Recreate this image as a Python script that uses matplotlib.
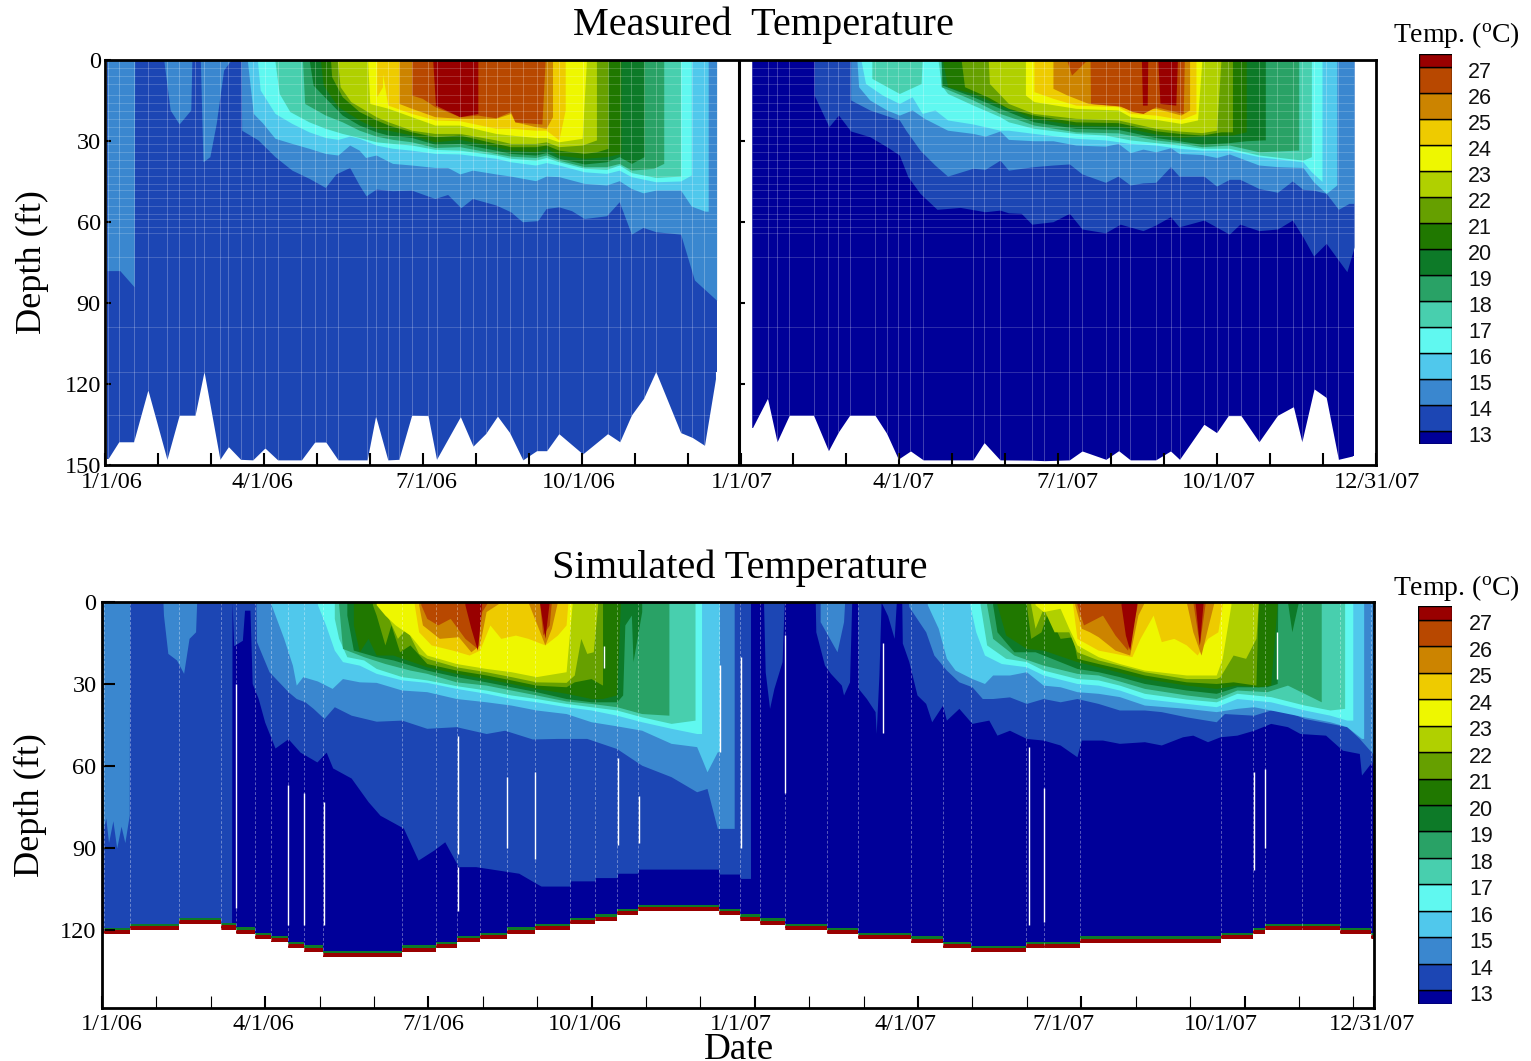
# -*- coding: utf-8 -*-
# measured and simulated lake temperature, depth vs date
# x values are months since 1/1/06, depths are in ft
import matplotlib
matplotlib.use('Agg')
import matplotlib.pyplot as plt

W, H = 1531, 1061

temps = list(range(13, 28))
band_colors = ['#000099', '#1c46b4', '#3a87cf', '#50c8ec', '#60f8f0', '#48cfae', '#29a266', '#0d7a28',
               '#207800', '#66a000', '#b0d000', '#eef700', '#eecb00', '#cc8400', '#b84800', '#990000']
depth_ticks = [0, 30, 60, 90, 120, 150]
top_dates = ['1/1/06', '4/1/06', '7/1/06', '10/1/06', '1/1/07', '4/1/07', '7/1/07', '10/1/07', '12/31/07']
sim_depth_ticks = [0, 30, 60, 90, 120]

# ---- measured 2006, isotherm depth per colour band
m06_bot_x = [.05,.26,.54,.81,1.17,1.40,1.70,1.87,2.17,2.33,2.56,2.79,3.02,3.26,3.71,3.96,4.17,4.40,4.95,5.11,5.34,5.55,5.79,6.10,6.26,6.71,6.95,7.19,7.41,7.64,7.89,8.15,8.34,8.57,9.02,9.49,9.72,9.94,10.17,10.40,10.87,11.09,11.32,11.55]
m06_bot_d = [147.9,141.4,141.4,122.2,147.9,131.6,131.6,115.4,147.9,143.2,147.9,148.1,143.7,148.1,148.1,141.5,141.5,148.1,148.1,131.9,148.1,147.9,131.6,131.7,147.9,132.1,143,138.3,131.9,138,148.1,144.7,144.7,138.4,145.9,138.4,141.4,131.5,125.3,115.4,138,139.8,142.7,115.4]
m06_x2 = [.04,.28,.55,.56,1.11,1.23,1.40,1.62,1.64,1.80,1.85,1.98,2.10,2.24,2.38,2.57,2.58,2.89,3.21,3.53,3.85,4.16,4.36,4.62,4.80,4.93,5.12,5.43,5.79,6.23,6.47,6.72,6.94,7.38,7.66,7.88,8.17,8.33,8.57,8.81,9.05,9.47,9.71,9.94,10.16,10.40,10.87,11.13,11.55]
m06_d2 = [78,78,84,0,0,18.5,23.7,18.5,0,0,37.7,35.8,23.5,3.7,0,0,26,29.6,35.8,40.8,43.8,47.2,42.2,39.8,46.3,50.3,47.8,48.4,48.2,51.3,49.8,54.7,51.3,53.7,56.2,59.9,59.5,55,54.4,55.8,58.7,57.7,52.5,64.5,62,63.6,64.5,81.5,89]
m06_x3 = [2.69,2.80,2.97,3.21,3.53,3.85,4.16,4.40,4.62,4.80,4.92,5.12,5.43,5.79,6.23,6.47,6.70,6.94,7.38,7.66,8.13,8.33,8.57,9.05,9.47,9.71,9.94,10.16,10.40,10.87,11.07,11.33,11.39]
m06_d3 = [.6,19.8,23.2,29,30.9,32.7,34.6,35.2,31.5,33.4,36.1,35.2,38.3,38.9,39.8,39.8,42.2,40.8,42.2,43,44.7,43,43.2,45.7,46.3,44.7,47.6,49.2,48.2,48.2,54.1,56,56]
m06_x4 = [2.88,2.93,3.21,3.53,3.85,4.16,4.40,4.62,4.80,5.12,5.43,5.79,6.23,6.70,7.38,7.66,8.13,8.33,8.57,9.05,9.47,9.71,9.94,10.40,10.87,11.07]
m06_d4 = [.6,11.1,19.8,23.5,26.6,28.7,29.4,28.2,29,31.5,32.7,33.4,34.6,34.8,36.4,37.7,38.9,38,38.9,41.4,42,40.8,43.2,45.1,44.8,42.6]
m06_x5 = [3.21,3.29,3.49,3.85,4.16,4.48,4.80,5.12,5.43,5.79,6.23,6.70,7.38,7.66,8.13,8.33,8.57,9.05,9.47,9.71,9.94,10.40,10.87]
m06_d5 = [.6,12.4,19.1,22.9,25.3,27.2,28.7,30.3,30.9,31.5,33.1,33.4,35.2,36.4,37.1,36.1,37.7,40.1,40.5,38.9,41.7,43.5,43]
m06_x6 = [3.73,3.77,4.16,4.48,4.80,5.12,5.43,5.79,6.23,6.70,7.38,7.66,8.13,8.33,8.57,9.05,9.47,9.71,9.94,10.36,10.55]
m06_d6 = [.6,16.1,20.4,22.9,26,28.2,29.4,30.3,32.4,32.1,34.6,35.6,36.1,35.2,37.1,39.5,39.5,38.3,40.8,40.1,38.3]
m06_x7 = [3.86,3.93,4.20,4.48,4.80,5.12,5.35,5.79,6.23,6.70,7.38,7.66,8.13,8.33,8.57,9.05,9.47,9.71,9.94,10.18]
m06_d7 = [.6,9.3,14.8,20.4,24.1,26.6,27.8,28.7,31.2,30.9,33.4,34.6,35.2,34.3,36.4,38.5,37.7,35.8,38.3,35.8]
m06_x8 = [4.07,4.12,4.40,4.80,5.12,5.35,5.79,6.23,6.70,7.38,7.66,8.13,8.33,8.57,9.05,9.47,9.74]
m06_d8 = [.6,9.3,17.3,22.2,25.3,26,27.8,30.3,29.4,32.1,33.4,34,32.7,35.2,36.4,35.8,34.6]
m06_x9 = [4.26,4.28,4.48,4.80,5.12,5.35,5.79,6.23,6.70,7.38,7.66,8.13,8.33,8.57,9.05,9.28,9.50]
m06_d9 = [.6,6.2,13.6,19.1,22.2,24.1,26.6,28.4,27.8,30.9,32.1,32.1,31.5,33.4,34.6,34,32.7]
m06_x10 = [4.39,4.44,4.64,5.12,5.35,5.79,6.23,6.70,7.38,7.66,8.13,8.33,8.57,9.01,9.28]
m06_d10 = [.6,9.9,15.4,21,22.9,26,27.2,27.2,29.6,30.9,30.9,30.3,32.1,31.5,29.6]
m06_x11 = [4.96,5.00,5.35,5.79,6.23,6.70,7.38,7.66,8.13,8.33,8.57,9.01,9.09]
m06_d11 = [.6,16.1,17.9,21,24.1,24.1,27.2,27.8,28.7,28.7,30.3,29,.6]
m06_x12 = [5.13,5.24,5.24,5.34,5.79,6.23,6.70,7.38,7.66,8.13,8.33,8.57,8.69]
m06_d12 = [13.6,9.9,5,16.7,19.8,22.2,22.5,25.3,25.3,26,26,29.6,18.5]
m06_x13 = [5.55,5.79,6.23,6.70,7.38,7.66,7.74,8.13,8.33,8.45]
m06_d13 = [16.1,17.9,21,21.6,21.6,19.8,22.9,24.7,25.3,21]
m06_x14 = [5.79,5.99,6.23,6.70,7.04,7.38,7.66,7.74,8.25,8.31]
m06_d14 = [13,14.2,17.3,21,20.4,21.4,19.1,22.9,23.7,.6]
m06_x15 = [6.19,6.24,6.70,7.04]
m06_d15 = [.6,16.7,21,19.8]

# ---- measured 2007
m07_bot_x = [12.22,12.51,12.69,12.92,13.38,13.66,13.85,14.06,14.54,14.76,14.98,15.21,15.45,16.39,16.60,16.90,17.50,17.74,18.21,18.45,18.90,19.14,19.36,19.84,20.12,20.29,20.75,20.99,21.21,21.45,21.79,22.14,22.44,22.60,22.83,23.06,23.29,23.59]
m07_bot_d = [136.4,125.3,141.4,131.6,131.6,144.7,137.7,131.6,131.6,138.3,147.8,144.8,148.1,148.1,141.7,148.1,148.2,148.4,148.1,144.8,147.9,144.7,148.1,148.1,144.8,147.9,134.9,138,131.7,131.7,141.4,131.6,128.4,141.4,121.8,125,147.9,146.5]
m07_x1 = [13.39,13.67,13.85,14.08,14.44,14.76,15.0,15.16,15.39,15.71,16.15,16.62,16.90,17.06,17.30,17.5,17.9,18.21,18.45,18.89,19.17,19.6,19.84,20.12,20.28,20.75,21.23,21.43,21.79,22.14,22.42,22.62,22.82,23.06,23.29,23.45,23.59]
m07_d1 = [13,24.7,20.4,26.3,28.4,32.1,35.2,43.2,49.4,55.3,54.6,56.2,55.6,56.6,56.8,60.8,59.9,56.8,62.6,64,60.8,63.2,61.1,58,61.8,59.3,64.5,60.8,63.2,62.6,59.3,65.5,72.6,67.9,74.1,78.4,69.2]
m07_x2 = [14.08,14.44,15.0,15.12,15.39,15.67,15.91,16.39,16.62,16.90,17.06,17.54,17.9,18.21,18.45,18.89,19.13,19.36,19.6,19.84,20.12,20.28,20.75,20.99,21.23,21.43,21.79,22.14,22.42,22.62,22.82,23.06,23.29,23.49,23.59]
m07_d2 = [14.8,18.5,22.2,26,33.4,38.9,43,40.1,40.5,37.1,40.8,39.5,38.9,38.5,42.2,45.3,43,46.3,45.5,45.3,39.5,43,43,46.7,44.2,44.2,47.6,49,44.8,47.9,48.2,49.4,55.3,53.1,53.1]
m07_x3 = [14.2,14.23,14.44,14.76,15.0,15.24,15.47,15.91,16.39,16.62,16.90,17.06,17.54,17.9,18.33,18.89,19.13,19.36,19.6,19.84,20.12,20.28,20.71,20.99,21.23,21.79,22.14,22.62,22.82,23.06,23.26]
m07_d3 = [.6,9.9,14.8,18.5,20.4,18.5,21.6,26,27.2,28.2,26.3,29.4,29.9,29.9,31.5,31.9,30.9,34.3,33,34,32.5,34.6,35,36.1,34.8,38.9,39.5,39.8,45.1,49.4,46.3]
m07_x4 = [14.28,14.36,14.68,15.0,15.24,15.43,15.67,15.91,16.39,16.90,17.06,17.54,18.33,18.89,19.36,19.84,20.28,20.71,21.23,21.79,22.62,22.78,22.98]
m07_d4 = [.6,8.7,13,16.1,13.6,19.8,18.5,22.2,23.7,26,26,27.2,29,29.6,30.9,31.5,32.7,33.4,33.4,35.8,37.7,41.4,45]
m07_x5 = [14.48,15.0,15.41,15.43,15.73,15.79,15.91,16.39,16.90,17.06,17.54,18.33,18.89,19.36,19.84,20.28,20.71,21.23,21.79,22.62,22.78]
m07_d5 = [6.8,12.4,8.7,0,0,9.3,12.4,16.7,21,22.9,25.3,27.2,27.8,29.6,30.6,31.5,32.7,32.7,35.2,37.1,35.8]
m07_x6 = [15.79,16.39,16.90,17.54,18.33,19.13,19.84,20.28,20.71,21.23,21.79,22.49,22.54]
m07_d6 = [9.9,14.8,19.8,24.1,26.6,27,29.6,30.6,32.1,31.5,34,33.4,33.4]
m07_x7 = [15.79,15.81,16.39,16.90,17.54,18.33,19.13,19.84,20.28,20.71,21.23,21.55,21.87,21.91]
m07_d7 = [.6,9.3,13.6,17.9,22.9,25.3,25.7,28.7,29.9,31.2,30.6,29.9,29.6,29.6]
m07_x8 = [15.82,15.91,16.39,16.90,17.54,18.33,19.13,19.84,20.28,20.71,21.29,21.55]
m07_d8 = [.6,9.9,12.4,16.7,21.6,24.1,24.5,27.4,28.7,28.2,27.8,26.6]
m07_x9 = [16.17,16.23,16.66,17.06,17.54,18.33,19.13,19.84,20.28,20.71,21.07,21.29]
m07_d9 = [.6,9.9,13.6,17.9,20.4,22.9,23.2,26.2,27.2,27.8,26.6,26.6]
m07_x10 = [16.68,16.70,17.06,17.54,18.33,19.13,19.84,20.28,20.71,20.99,21.07]
m07_d10 = [.6,8.7,16.1,19.8,21.6,22.2,25.3,26.3,26.9,26,.6]
m07_x11 = [17.38,17.54,18.33,19.13,19.36,19.84,20.32,20.63,20.71]
m07_d11 = [13,15.4,17.9,18.5,21,22,23.5,22.2,.6]
m07_x12 = [17.54,17.9,18.33,19.13,19.36,19.84,20.32,20.6]
m07_d12 = [11.7,14.2,16.7,17.3,19.8,20.4,22,19.8]
m07_x13 = [17.9,18.17,18.57,19.13,19.40,19.84,20.32,20.48]
m07_d13 = [10.5,13,16.1,17,18.5,17.9,20.4,18.5]
m07_x14 = [18.17,18.25,18.51,18.60,18.61,19.17,19.40,19.6,19.84,20.36,20.38]
m07_d14 = [.6,5.6,.6,0,16.1,17,19.1,19.8,17.3,19.8,.6]
m07_x15 = [19.57,19.59,19.68,19.69,19.88,19.92,20.22,20.25]
m07_d15 = [0,16.7,16.7,0,0,16.1,16.7,0]
m_grid_depths = [3,6,9,13,16,19,22,25,28,31,34,37,40,43,46,48,51,54,57,59,62,64,73,99,115.4,131.6]

# ---- simulated, bottom of the water column (steps)
sim_step_x = [.03,.52,1.41,2.19,2.46,2.81,3.11,3.41,3.72,4.07,5.51,6.14,6.53,6.95,7.44,7.95,8.61,9.07,9.46,9.86,11.34,11.73,12.09,12.55,13.32,13.9,14.87,15.45,15.98,16.99,17.31,17.97,20.56,21.16,21.38,22.05,22.76,23.32]
sim_step_d = [121.5,120,117.7,119.8,121.3,123.2,124.5,126.5,127.9,130,127.9,126.5,124.5,123.2,121.3,120,117.8,116.6,114.6,113.2,114.6,116.6,118,119.9,121.4,123.2,124.6,126.5,128,126.5,126.5,124.6,123.2,121.4,119.9,119.9,121.4,123.2]
s06_x1 = [0,2.38,2.39,2.42,2.58,2.62,2.72,2.76,2.87,2.99,3.18,3.42,3.64,3.95,4.12,4.24,4.58,4.89,5.11,5.54,5.81,6.1,6.3,6.55,6.87,7.66,7.97,8.07,8.6,8.61,9.06,9.07,9.47,9.48,9.85,9.86,11.33,11.34,11.72,11.73,11.92]
s06_d1 = [135,135,0,16,14,3,3,29.8,35.2,43.9,53.4,50,54.9,58.5,54.9,60.7,64.4,73,78,82.7,94.4,90.7,87.7,96.8,96.8,99.2,102.8,103.9,103.9,102,102,100.8,100.8,99.2,99.2,97.7,97.7,99.5,99.5,101.1,101.1]
s07_x1 = [12.16,12.19,12.27,12.35,12.5,12.54,13.11,13.12,13.28,13.39,13.59,13.63,13.74,13.78,13.89,13.9,14.05,14.21,14.23,14.28,14.32,14.44,14.56,14.6,14.7,14.71,14.83,14.98,15.14,15.25,15.45,15.52,15.75,15.99,16.3,16.45,16.68,16.99,17.3,17.61,17.92,18,18.39,18.7,19.16,19.47,19.86,20.05,20.32,20.55,20.86,21.17,21.48,21.79,22.02,22.49,22.8,23.11,23.15,23.34,23.38]
s07_d1 = [1,25.5,38.9,31.6,21.8,0,0,10.9,23.1,26.1,30.4,34,29.2,0,0,31.6,35.3,40.1,48.1,26.7,0,5,13.3,0,0,15,21.8,34,37.1,43.8,37.7,43.2,38.9,44.4,43.2,48.7,46.9,49.9,50.5,52.3,56.6,50.5,50.5,51.7,51.1,52.3,49.3,48.7,51.1,49.3,48.7,46.9,44.4,45.6,48.1,48.7,54.2,55.4,63.3,58.4,63.9]
s06_x2 = [0,.07,.12,.2,.27,.35,.42,.5,.51,1.12,1.13,1.21,1.37,1.5,1.6,1.72,1.74,2.83,2.84,3.07,3.19,3.42,3.57,3.73,3.88,4.08,4.27,4.58,5.04,5.51,5.97,6.51,7.06,7.4,7.91,8.37,8.91,9.46,9.92,10.46,10.93,11.12,11.31,11.62]
s06_d2 = [85,79,88,80,90,82,88,78,0,0,4.8,18.8,21.2,26.1,13.3,10.9,0,0,14.5,25.5,28,32.8,35.3,36.5,38.9,42.6,38.3,41.4,43.6,43.2,46.2,45.6,48.1,46.9,50.1,49.9,49.9,53.6,59.7,63.9,69.4,68.2,82.8,82.8]
s07_x2 = [13.2,13.51,13.63,13.65,14.82,14.83,15.14,15.29,15.52,15.75,15.99,16.18,16.37,16.68,16.99,17.3,17.61,17.92,18.31,18.7,19.16,19.47,19.93,20.48,20.63,21.17,21.48,21.79,22.1,22.57,22.88,23.11,23.38]
s07_d2 = [7.2,18.2,7.2,0,0,1.7,10.9,19.4,24.9,29.2,31,35.3,35.3,34.7,37.1,35.3,36.5,35.3,37.1,39.5,39.5,40.1,42,43.8,40.8,41.4,39.5,40.1,42.6,44.4,45.6,49.9,56]
s06_x3 = [3.11,3.34,3.5,3.57,3.69,3.96,4.23,4.42,4.73,5.04,5.51,5.97,6.51,7.06,7.52,7.98,8.53,8.99,9.46,9.92,10.46,10.93,11.02,11.12,11.31,11.35]
s06_d3 = [1,13.3,23.1,30.4,27.3,28.9,31.6,28,29.2,29.4,32.2,32.8,35.3,36.5,37.7,39.5,40.8,43.8,45.3,46.9,51.7,52.9,57.2,62.1,54.8,54.8]
s07_x3 = [15.17,15.37,15.52,15.68,15.99,16.22,16.37,16.68,16.99,17.3,17.61,17.92,18.31,18.7,19.16,19.93,20.48,20.86,21.17,21.48,22.1,22.57,22.88,23.15,23.19]
s07_d3 = [1,9.6,20.6,24.9,28,29.8,26.7,26.7,25.5,30.4,31,32.8,33.4,34.6,37.7,38.9,40.1,38.9,38.3,39.5,42,43.8,45.6,49.9,49.9]
s06_x4 = [3.96,4.11,4.27,4.42,4.73,5.04,5.51,5.97,6.51,7.06,7.52,7.98,8.53,8.99,9.46,9.92,10.46,10.93,11.02]
s06_d4 = [1,8.4,17.6,21.8,23.1,26.1,28.5,29.4,31.6,33.4,35.3,36.5,38.3,39.5,41.4,43.8,46.2,48.1,48.1]
s07_x4 = [15.95,16.06,16.22,16.53,16.99,17.3,17.92,18.31,18.7,19.16,19.93,20.48,20.86,21.48,22.1,22.57,22.88,22.99]
s07_d4 = [1,10.9,19.4,22.5,23.7,26.7,29.8,30.4,32.2,35.3,37.1,38.3,35.3,36.5,39.5,41.4,43.2,43.2]
s06_x5 = [4.27,4.35,4.5,4.81,5.04,5.51,5.97,6.51,7.06,7.52,7.98,8.53,8.99,9.46,9.92,10.46,10.9]
s06_d5 = [6,13.3,20,21.2,24.3,27.3,28.5,30.6,32.2,34,35.3,37.1,38.3,39.5,42,44.4,43.2]
s07_x5 = [16.14,16.26,16.61,16.99,17.3,17.92,18.31,18.7,19.16,19.93,20.48,20.86,21.48,22.1,22.57,22.84]
s07_d5 = [1,15.7,20.6,21.8,24.9,28,28.5,30.4,33.4,35.5,36.5,33.4,34.6,37.7,39.5,38.9]
s06_x6 = [4.35,4.42,4.81,5.2,5.66,5.97,6.51,7.06,7.52,7.98,8.53,8.99,9.46,9.92,10.42]
s06_d6 = [1,17,20,22.5,24.9,26.1,29.2,30.4,32.2,34,36.2,37.1,38.3,40.8,41.4]
s07_x6 = [16.26,16.37,16.76,17.3,17.92,18.31,18.7,19.16,19.93,20.48,20.86,21.41,21.79,22.41]
s07_d6 = [1,13.3,19.4,23.1,26.1,26.7,28.9,31.6,34,35.3,32.2,32.8,30.4,36.5]
s06_x7 = [4.5,4.62,5.04,5.35,5.97,6.51,7.06,7.52,7.98,8.53,8.99,9.46,9.57,9.61,9.73,9.76,9.92]
s06_d7 = [4.8,17.6,20,21.2,24.9,27.3,29.2,31,32.8,35.3,36.5,36.5,34,8.4,4.8,21.8,3.5]
s07_x7 = [16.37,16.45,16.76,17.15,17.92,18.31,18.7,19.16,19.93,20.48,20.86,21.41,21.6,21.61,21.79,21.87,21.99]
s07_d7 = [1,10.9,18.2,18.2,24.3,25.5,27.3,29.8,32.2,33.4,31,31,29.8,0,0,10.9,0]
s06_x8 = [4.62,4.73,4.89,5.04,5.35,5.97,6.51,7.06,7.52,7.98,8.53,8.99,9.2,9.46,9.53]
s06_d8 = [8.4,18.2,13.3,19.4,19.4,23.7,26.1,28,29.8,31.6,33.4,35.3,35.3,34,0]
s07_x8 = [16.45,16.61,16.99,17.3,17.92,18.31,18.7,19.16,19.93,20.48,20.86,21.25,21.48,21.6]
s07_d8 = [1,12.1,17,17.6,21.8,23.7,25.7,28,30.4,31.6,30.4,31,30.4,1]
s06_x9 = [4.97,5.04,5.2,5.31,5.47,5.66,5.97,6.51,7.06,7.52,7.98,8.53,8.68,8.99,9.2]
s06_d9 = [1,4.8,15.7,8.4,18.2,15.7,22.5,24.9,26.7,28.5,30.4,31,29.2,28,30.4]
s07_x9 = [16.99,17.07,17.26,17.38,17.61,17.84,17.92,18.31,18.7,19.16,19.93,20.48,20.79,21.21,21.25]
s07_d9 = [1,13.3,10.9,3.5,13.3,12.7,20.6,22.5,24.3,26.7,29.2,29.8,29.2,30.4,1]
s06_x10 = [5.12,5.28,5.43,5.59,5.82,5.97,6.51,7.06,7.52,7.98,8.53,8.68,8.8,8.91,9.03,9.11]
s06_d10 = [1,6.6,13.3,9.6,18.8,20.6,23.7,25.5,27.3,29.2,29.4,26.7,13.3,18.8,18.2,1]
s07_x10 = [17.07,17.15,17.3,17.5,17.77,17.92,18.31,18.7,19.16,19.93,20.48,20.55,20.79,21.02,21.21,21.25]
s07_d10 = [1,9.6,2.3,10.9,10.9,18.2,21.2,23.1,25.5,28,28,27.3,19.4,20.6,13.3,1]
s06_x11 = [5.04,5.2,5.39,5.66,5.86,5.97,6.51,7.06,7.52,7.98,8.53,8.64]
s06_d11 = [1,4.8,8.4,12.1,17,19.4,22.5,24.3,25.5,27.3,25.5,1]
s07_x11 = [17.15,17.3,17.61,17.77,17.92,18.31,18.7,19.16,19.93,20.48,20.59,20.75]
s07_d11 = [1,3.5,2.3,9.6,15.7,20,22.5,24.9,26.7,26.7,20.6,1]
s06_x12 = [5.74,5.82,6.05,6.44,6.75,6.94,7.13,7.33,7.6,7.83,8.14,8.37,8.53,8.56]
s06_d12 = [1,10.9,15.7,17.6,19.4,17.6,8.4,13.3,12.1,13.3,15.7,12.1,8.4,1]
s07_x12 = [17.84,17.92,18.31,18.62,18.93,19.08,19.32,19.47,19.7,19.93,20.13,20.32,20.51,20.59]
s07_d12 = [1,13.3,17.6,18.8,20,13.3,4.8,14.5,13.3,15.7,19.4,13.3,10.9,1]
s06_x13 = [5.82,5.89,6.2,6.55,6.78,6.94,7.06,7.33,7.83,8.02,8.14,8.26,8.37]
s06_d13 = [1,8.4,13.3,12.7,18.2,15.7,3.5,0,0,9.6,15.7,9.6,0]
s07_x13 = [17.88,18,18.15,18.31,18.62,18.89,19.04,19.16,19.93,20.05,20.2,20.32,20.44]
s07_d13 = [1,9.6,10.9,12.7,17.6,19.4,4.8,0,0,10.9,19.4,9.6,0]
s06_x14 = [5.86,5.97,6.17,6.4,6.67,6.9,6.98,7.09,8.04,8.1,8.22,8.26]
s06_d14 = [1,6,8.4,6,13.3,17,3.5,0,0,12.1,8.4,0]
s07_x14 = [17.92,18.04,18.39,18.62,18.85,19.04,20.05,20.17,20.28]
s07_d14 = [1,8.4,4.8,12.1,17.6,0,0,15.7,0]
s06_x15 = [6.67,6.78,6.9,6.96,6.98,8.04,8.14,8.22]
s06_d15 = [1,9.6,17.6,4.8,0,0,13.3,0]
s07_x15 = [18.73,18.81,18.89,19.01,19.02,20.09,20.17,20.24]
s07_d15 = [1,12.1,17.6,2.3,0,0,15.7,0]
# short white gaps in the simulated field
gap_x = [2.46,3.42,3.71,4.08,6.55,6.55,7.44,7.96,9.49,9.87,9.23,11.36,11.75,12.55,14.35,17.03,17.31,21.17,21.38,21.59]
gap_top = [30,67,70,73,49,97,64,62,57,71,16,23,20,12,15,53,68,62,61,11]
gap_bot = [112,118,118,118,92,113,90,94,89,88,24,55,90,70,48,118,117,98,90,28]

plt.rcParams['font.family'] = ['Liberation Serif', 'DejaVu Serif']
plt.rcParams['mathtext.fontset'] = 'custom'
plt.rcParams['mathtext.rm'] = 'Liberation Serif'


def box(l, t, r, b):
    return [l / W, 1 - b / H, (r - l) / W, (b - t) / H]


def fill(ax, x, d, k):
    ax.fill_between(x, 0, d, color=band_colors[k], lw=0)


def colorbar(l, t, r, b, lo, hi):
    cax = fig.add_axes(box(l, t, r, b))
    edges = [lo] + temps + [hi]
    for k in range(16):
        cax.bar(0, edges[k + 1] - edges[k], bottom=edges[k], width=1, color=band_colors[k],
                edgecolor='black', linewidth=1)
    cax.set_xlim(-.5, .5)
    cax.set_ylim(lo, hi)
    cax.axis('off')
    for T in temps:
        cax.text(1.35, T - .2, str(T), ha='center', va='center', fontsize=15.5,
                 family='Liberation Sans', color='#111111')
    return cax


def date_labels(ax, ticks, dx, below):
    # the date labels sit a little off their ticks, dx in pixels
    ax.set_xticklabels([])
    for t, lab, s in zip(ticks, top_dates, dx):
        ax.annotate(lab, (t, 0), xycoords=ax.get_xaxis_transform(), xytext=(s * .72, -below * .72),
                    textcoords='offset points', ha='center', va='center', fontsize=17.5)


fig = plt.figure(figsize=(W / 100, H / 100), dpi=100)

# measured
ax1 = fig.add_axes(box(105, 60, 1376, 465))
ax1.fill_between([.04, 11.55], 0, 150, color=band_colors[1], lw=0)
ax1.fill_between([12.22, 23.59], 0, 150, color=band_colors[0], lw=0)
for k, (x, d) in zip(range(2, 16), [(m06_x2, m06_d2), (m06_x3, m06_d3), (m06_x4, m06_d4), (m06_x5, m06_d5),
                                    (m06_x6, m06_d6), (m06_x7, m06_d7), (m06_x8, m06_d8), (m06_x9, m06_d9),
                                    (m06_x10, m06_d10), (m06_x11, m06_d11), (m06_x12, m06_d12),
                                    (m06_x13, m06_d13), (m06_x14, m06_d14), (m06_x15, m06_d15)]):
    fill(ax1, x, d, k)
for k, (x, d) in zip(range(1, 16), [(m07_x1, m07_d1), (m07_x2, m07_d2), (m07_x3, m07_d3), (m07_x4, m07_d4),
                                    (m07_x5, m07_d5), (m07_x6, m07_d6), (m07_x7, m07_d7), (m07_x8, m07_d8),
                                    (m07_x9, m07_d9), (m07_x10, m07_d10), (m07_x11, m07_d11),
                                    (m07_x12, m07_d12), (m07_x13, m07_d13), (m07_x14, m07_d14),
                                    (m07_x15, m07_d15)]):
    fill(ax1, x, d, k)
# faint mesh lines
for x0, x1, xs, ds in [(.04, 11.55, m06_bot_x, m06_bot_d), (12.22, 23.59, m07_bot_x, m07_bot_d)]:
    ax1.hlines(m_grid_depths, x0, x1, color='white', lw=.7, alpha=.18)
    ax1.vlines(xs, 0, ds, color='white', lw=.7, alpha=.25)
    ax1.fill_between(xs, ds, 151, color='white', lw=0)
    ax1.vlines([xs[0], xs[-1]], [ds[0], ds[-1]], 150, color='white', lw=1.5)
ax1.axvline(11.98, color='black', lw=2.2)
for d in depth_ticks[1:-1]:
    ax1.plot([11.98, 12.08], [d, d], color='black', lw=1.5, solid_capstyle='butt')
ax1.set_xlim(0, 24)
ax1.set_ylim(150, 0)
ax1.set_yticks(depth_ticks)
ax1.set_xticks(range(0, 25, 3))
ax1.set_xticks(range(25), minor=True)
date_labels(ax1, range(0, 25, 3), [7, -1, 4, -3, 1, 4, 9, 2, 1], 18)
ax1.tick_params(axis='y', direction='in', length=4, width=1.5, labelsize=17.5, pad=3)
ax1.tick_params(axis='x', which='both', direction='in', length=8.5, width=1.5)
for s in ax1.spines.values():
    s.set_linewidth(2)

# simulated
ax2 = fig.add_axes(box(102, 602, 1374, 1008))
ax2.fill_between([0, 23.38], 0, 135, color=band_colors[0], lw=0)
for k, (x, d, x7, d7) in zip(range(1, 16), [
        (s06_x1, s06_d1, s07_x1, s07_d1), (s06_x2, s06_d2, s07_x2, s07_d2), (s06_x3, s06_d3, s07_x3, s07_d3),
        (s06_x4, s06_d4, s07_x4, s07_d4), (s06_x5, s06_d5, s07_x5, s07_d5), (s06_x6, s06_d6, s07_x6, s07_d6),
        (s06_x7, s06_d7, s07_x7, s07_d7), (s06_x8, s06_d8, s07_x8, s07_d8), (s06_x9, s06_d9, s07_x9, s07_d9),
        (s06_x10, s06_d10, s07_x10, s07_d10), (s06_x11, s06_d11, s07_x11, s07_d11),
        (s06_x12, s06_d12, s07_x12, s07_d12), (s06_x13, s06_d13, s07_x13, s07_d13),
        (s06_x14, s06_d14, s07_x14, s07_d14), (s06_x15, s06_d15, s07_x15, s07_d15)]):
    fill(ax2, x, d, k)
    fill(ax2, x7, d7, k)
ax2.vlines(sim_step_x, 0, sim_step_d, color='white', lw=.7, alpha=.35, linestyles=(0, (3, 2)))
ax2.vlines(gap_x, gap_top, gap_bot, color='white', lw=1)
stx = [0] + sim_step_x + [23.38]
sty = [sim_step_d[0]] + sim_step_d + [sim_step_d[-1]]
ax2.fill_between(stx, [v - 2.3 for v in sty], [v - 1.5 for v in sty], step='post', color=band_colors[7], lw=0)
ax2.fill_between(stx, [v - 1.5 for v in sty], sty, step='post', color=band_colors[15], lw=0)
ax2.fill_between(stx, sty, 149, step='post', color='white', lw=0)
ax2.set_xlim(0, 23.38)
ax2.set_ylim(148.5, 0)
ax2.set_yticks(sim_depth_ticks)
sim_major = list(range(0, 22, 3)) + [23.38]
ax2.set_xticks(sim_major)
ax2.set_xticks(range(24), minor=True)
date_labels(ax2, sim_major, [10, -2, 5, -7, -14, -13, -18, -24, -2], 17)
ax2.tick_params(axis='y', direction='in', length=9, width=1.5, labelsize=17.5, pad=4)
ax2.tick_params(axis='x', which='major', direction='in', length=9, width=1.5)
ax2.tick_params(axis='x', which='minor', direction='in', length=9, width=.8)
for s in ax2.spines.values():
    s.set_linewidth(2)

colorbar(1419, 54, 1452, 444, 12.51, 27.51)
colorbar(1418, 606, 1452, 1004, 12.49, 27.51)

fig.text(763 / W, 1 - 25 / H, 'Measured  Temperature', ha='center', va='center', fontsize=29)
fig.text(740 / W, 1 - 568 / H, 'Simulated Temperature', ha='center', va='center', fontsize=29)
fig.text(1456 / W, 1 - 35 / H, r'Temp. ($\mathregular{^{o}}$C)', ha='center', va='center', fontsize=20)
fig.text(1456 / W, 1 - 588 / H, r'Temp. ($\mathregular{^{o}}$C)', ha='center', va='center', fontsize=20)
fig.text(32 / W, 1 - 262 / H, 'Depth (ft)', rotation=90, ha='center', va='center', fontsize=26)
fig.text(30 / W, 1 - 805 / H, 'Depth (ft)', rotation=90, ha='center', va='center', fontsize=26)
fig.text(739 / W, 1 - 1059 / H, 'Date', ha='center', va='baseline', fontsize=26.7)

fig.savefig('out.png', dpi=100)
